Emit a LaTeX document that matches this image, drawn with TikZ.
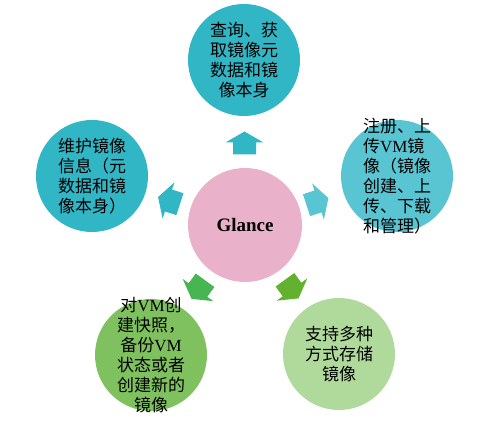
\documentclass[tikz,border=0pt]{standalone}
\usepackage{fontspec}
\setmainfont{Noto Sans CJK SC}
\newfontfamily\latin{Liberation Serif}
\usetikzlibrary{calc}
\definecolor{glancepink}{HTML}{EAB1CB}
\definecolor{tealc}{HTML}{31B6C5}
\definecolor{lighttealc}{HTML}{59C4D2}
\definecolor{greenc}{HTML}{7FC15E}
\definecolor{lightgreenc}{HTML}{B0DA9B}
\definecolor{arrowgreen}{HTML}{47B552}
\definecolor{arrowolive}{HTML}{62B22F}
\tikzset{
  bubble/.style={circle, minimum size=112pt, inner sep=0pt},
  caption/.style={font=\fontsize{17}{20}\selectfont, inner sep=0pt},
  blockarrow/.pic={\path[pic actions] (-12,-11.5) -- (0,-11.5) -- (0,-19) -- (11,0) -- (0,19) -- (0,11.5) -- (-12,11.5) -- cycle;}
}
\begin{document}
\begin{tikzpicture}[x=1pt,y=1pt]
    \useasboundingbox (0,0) rectangle (498,433);
    \node[bubble, fill=glancepink, minimum size=114pt, font=\fontsize{19}{20}\selectfont\latin\bfseries] (glance) at (245,208) {Glance};
    \node[bubble, fill=tealc] (query) at (244,373) {};
    \node[bubble, fill=lighttealc] (register) at (397,257) {};
    \node[bubble, fill=tealc] (maintain) at (92,257) {};
    \node[bubble, fill=greenc] (snapshot) at (151,78) {};
    \node[bubble, fill=lightgreenc] (store) at (339,79) {};
    \node[caption, align=center] at (query) {查询、获\\取镜像元\\数据和镜\\像本身};
    \node[caption, align=left] at (register) {注册、上\\传{\latin VM}镜\\像（镜像\\创建、上\\传、下载\\和管理）};
    \node[caption, align=left] at (maintain) {维护镜像\\信息（元\\数据和镜\\像本身）};
    \node[caption, align=center] at (snapshot) {对{\latin VM}创\\建快照，\\备份{\latin VM}\\状态或者\\创建新的\\镜像};
    \node[caption, align=center] at (store) {支持多种\\方式存储\\镜像};
    \pic[fill=tealc, rotate=90] at ($(glance)!0.5!(query)$) {blockarrow};
    \pic[fill=lighttealc, rotate=18] at ($(glance)!0.48!(register)$) {blockarrow};
    \pic[fill=tealc, rotate=162] at ($(glance)!0.5!(maintain)$) {blockarrow};
    \pic[fill=arrowgreen, rotate=234] at ($(glance)!0.5!(snapshot)$) {blockarrow};
    \pic[fill=arrowolive, rotate=-54] at ($(glance)!0.5!(store)$) {blockarrow};
\end{tikzpicture}
\end{document}
